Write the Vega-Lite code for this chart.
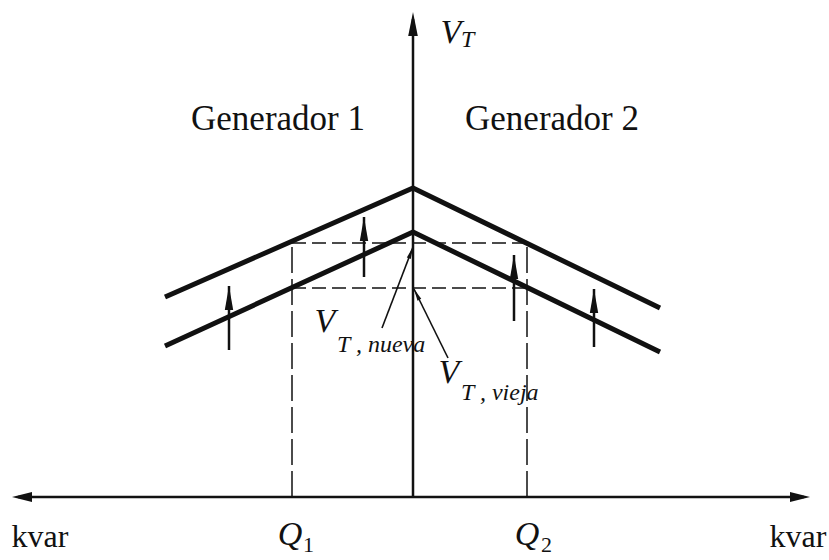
{
  "$schema": "https://vega.github.io/schema/vega-lite/v6.json",
  "width": 829,
  "height": 560,
  "autosize": {"type": "fit", "contains": "padding"},
  "padding": 0,
  "background": "white",
  "config": {"view": {"stroke": null}},
  "datasets": {
    "vlines": [
      {"series": "upper", "q": -248, "v": 200},
      {"series": "upper", "q": 0, "v": 309},
      {"series": "upper", "q": 247, "v": 189},
      {"series": "lower", "q": -248, "v": 151},
      {"series": "lower", "q": 0, "v": 265},
      {"series": "lower", "q": 247, "v": 145}
    ],
    "dashedV": [
      {"q": -121, "v": 0, "q2": -121, "v2": 256},
      {"q": 114, "v": 0, "q2": 114, "v2": 253}
    ],
    "dashedH": [
      {"q": -121, "v": 254, "q2": 114, "v2": 254},
      {"q": -121, "v": 209, "q2": 114, "v2": 209}
    ],
    "axes": [
      {"q": -395, "v": 0, "q2": 391, "v2": 0},
      {"q": 0, "v": 0, "q2": 0, "v2": 478}
    ],
    "headUp": [{"q": 0, "v": 485}],
    "headLeft": [{"q": -401, "v": 0}],
    "headRight": [{"q": 397, "v": 0}],
    "shifts": [
      {"q": -184, "v": 147, "v2": 211},
      {"q": -49, "v": 220, "v2": 280},
      {"q": 101, "v": 176, "v2": 242},
      {"q": 181, "v": 150, "v2": 208}
    ],
    "leaders": [
      {"q": -31, "v": 169, "q2": 0, "v2": 250},
      {"q": 35, "v": 139, "q2": 1, "v2": 208}
    ],
    "leaderHeadNueva": [{"q": 0, "v": 250}],
    "leaderHeadVieja": [{"q": 1, "v": 208}],
    "genLabels": [
      {"q": -135, "v": 367, "label": "Generador 1"},
      {"q": 139, "v": 367, "label": "Generador 2"}
    ],
    "kvar": [
      {"q": -373, "v": -50, "label": "kvar"},
      {"q": 385, "v": -50, "label": "kvar"}
    ],
    "bigItalic": [
      {"q": 38, "v": 454, "label": "V"},
      {"q": -123, "v": -48, "label": "Q"},
      {"q": 114, "v": -48, "label": "Q"},
      {"q": -88, "v": 165, "label": "V"},
      {"q": 36, "v": 114, "label": "V"}
    ],
    "subItalic": [
      {"q": 48, "v": 450, "label": "T"},
      {"q": -76, "v": 145, "label": "T , nueva"},
      {"q": 48, "v": 97, "label": "T , vieja"}
    ],
    "subUpright": [
      {"q": -110, "v": -55, "label": "1"},
      {"q": 128, "v": -55, "label": "2"}
    ]
  },
  "layer": [
    {
      "data": {"name": "dashedV"},
      "mark": {"type": "rule", "color": "#111", "strokeWidth": 1.5, "strokeDash": [26, 6]},
      "encoding": {
        "x": {"field": "q", "type": "quantitative", "scale": {"domain": [-413, 416], "nice": false, "zero": false}, "axis": null},
        "y": {"field": "v", "type": "quantitative", "scale": {"domain": [-63, 497], "nice": false, "zero": false}, "axis": null},
        "x2": {"field": "q2"},
        "y2": {"field": "v2"}
      }
    },
    {
      "data": {"name": "dashedH"},
      "mark": {"type": "rule", "color": "#111", "strokeWidth": 1.5, "strokeDash": [14, 6]},
      "encoding": {
        "x": {"field": "q", "type": "quantitative"},
        "y": {"field": "v", "type": "quantitative"},
        "x2": {"field": "q2"},
        "y2": {"field": "v2"}
      }
    },
    {
      "data": {"name": "axes"},
      "mark": {"type": "rule", "color": "#111", "strokeWidth": 2.5},
      "encoding": {
        "x": {"field": "q", "type": "quantitative"},
        "y": {"field": "v", "type": "quantitative"},
        "x2": {"field": "q2"},
        "y2": {"field": "v2"}
      }
    },
    {
      "data": {"name": "headUp"},
      "mark": {"type": "point", "shape": "M0,0L0.4,2L-0.4,2Z", "size": 576, "filled": true, "color": "#111", "opacity": 1},
      "encoding": {
        "x": {"field": "q", "type": "quantitative"},
        "y": {"field": "v", "type": "quantitative"}
      }
    },
    {
      "data": {"name": "headLeft"},
      "mark": {"type": "point", "shape": "M0,0L2,-0.5L2,0.5Z", "size": 400, "filled": true, "color": "#111", "opacity": 1},
      "encoding": {
        "x": {"field": "q", "type": "quantitative"},
        "y": {"field": "v", "type": "quantitative"}
      }
    },
    {
      "data": {"name": "headRight"},
      "mark": {"type": "point", "shape": "M0,0L-2,-0.5L-2,0.5Z", "size": 400, "filled": true, "color": "#111", "opacity": 1},
      "encoding": {
        "x": {"field": "q", "type": "quantitative"},
        "y": {"field": "v", "type": "quantitative"}
      }
    },
    {
      "data": {"name": "vlines"},
      "mark": {"type": "line", "color": "#111", "strokeWidth": 5, "strokeJoin": "miter", "strokeCap": "butt"},
      "encoding": {
        "x": {"field": "q", "type": "quantitative"},
        "y": {"field": "v", "type": "quantitative"},
        "detail": {"field": "series", "type": "nominal"}
      }
    },
    {
      "data": {"name": "shifts"},
      "mark": {"type": "rule", "color": "#111", "strokeWidth": 2.5},
      "encoding": {
        "x": {"field": "q", "type": "quantitative"},
        "y": {"field": "v", "type": "quantitative"},
        "y2": {"field": "v2"}
      }
    },
    {
      "data": {"name": "shifts"},
      "mark": {"type": "point", "shape": "M0,0L0.35,2L-0.35,2Z", "size": 576, "filled": true, "color": "#111", "opacity": 1},
      "encoding": {
        "x": {"field": "q", "type": "quantitative"},
        "y": {"field": "v2", "type": "quantitative"}
      }
    },
    {
      "data": {"name": "leaders"},
      "mark": {"type": "rule", "color": "#111", "strokeWidth": 1.6},
      "encoding": {
        "x": {"field": "q", "type": "quantitative"},
        "y": {"field": "v", "type": "quantitative"},
        "x2": {"field": "q2"},
        "y2": {"field": "v2"}
      }
    },
    {
      "data": {"name": "leaderHeadNueva"},
      "mark": {"type": "point", "shape": "M0,0L0.35,2L-0.35,2Z", "size": 144, "angle": 20.5, "filled": true, "color": "#111", "opacity": 1},
      "encoding": {
        "x": {"field": "q", "type": "quantitative"},
        "y": {"field": "v", "type": "quantitative"}
      }
    },
    {
      "data": {"name": "leaderHeadVieja"},
      "mark": {"type": "point", "shape": "M0,0L0.35,2L-0.35,2Z", "size": 144, "angle": -26.6, "filled": true, "color": "#111", "opacity": 1},
      "encoding": {
        "x": {"field": "q", "type": "quantitative"},
        "y": {"field": "v", "type": "quantitative"}
      }
    },
    {
      "data": {"name": "genLabels"},
      "mark": {"type": "text", "font": "Liberation Serif", "fontSize": 35, "color": "#111", "align": "center", "baseline": "alphabetic"},
      "encoding": {
        "x": {"field": "q", "type": "quantitative"},
        "y": {"field": "v", "type": "quantitative"},
        "text": {"field": "label"}
      }
    },
    {
      "data": {"name": "kvar"},
      "mark": {"type": "text", "font": "Liberation Serif", "fontSize": 32, "color": "#111", "align": "center", "baseline": "alphabetic"},
      "encoding": {
        "x": {"field": "q", "type": "quantitative"},
        "y": {"field": "v", "type": "quantitative"},
        "text": {"field": "label"}
      }
    },
    {
      "data": {"name": "bigItalic"},
      "mark": {"type": "text", "font": "Liberation Serif", "fontStyle": "italic", "fontSize": 34, "color": "#111", "align": "center", "baseline": "alphabetic"},
      "encoding": {
        "x": {"field": "q", "type": "quantitative"},
        "y": {"field": "v", "type": "quantitative"},
        "text": {"field": "label"}
      }
    },
    {
      "data": {"name": "subItalic"},
      "mark": {"type": "text", "font": "Liberation Serif", "fontStyle": "italic", "fontSize": 24, "color": "#111", "align": "left", "baseline": "alphabetic"},
      "encoding": {
        "x": {"field": "q", "type": "quantitative"},
        "y": {"field": "v", "type": "quantitative"},
        "text": {"field": "label"}
      }
    },
    {
      "data": {"name": "subUpright"},
      "mark": {"type": "text", "font": "Liberation Serif", "fontSize": 22, "color": "#111", "align": "left", "baseline": "alphabetic"},
      "encoding": {
        "x": {"field": "q", "type": "quantitative"},
        "y": {"field": "v", "type": "quantitative"},
        "text": {"field": "label"}
      }
    }
  ]
}
